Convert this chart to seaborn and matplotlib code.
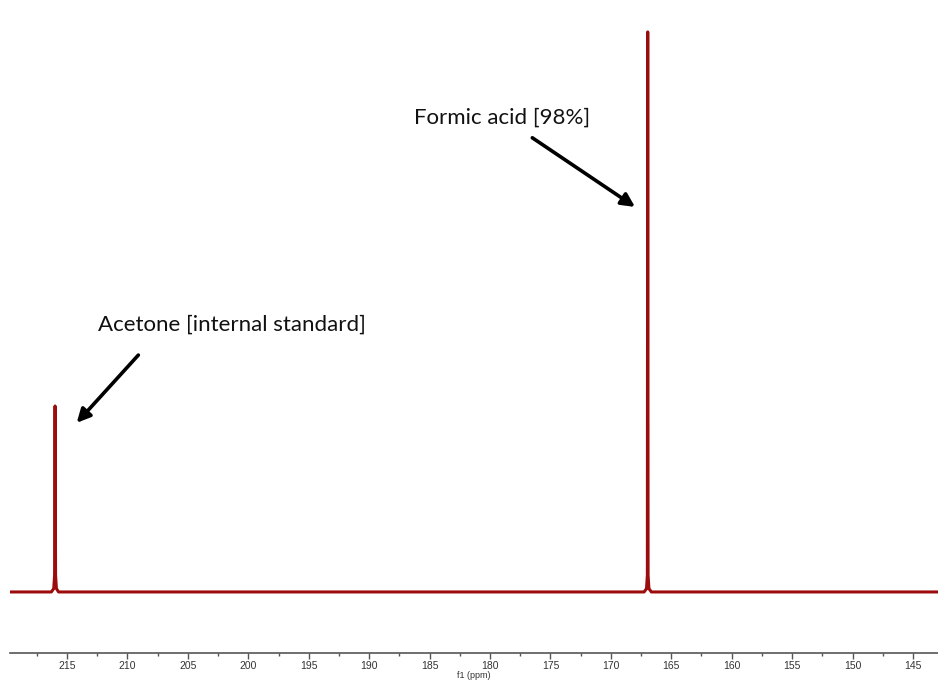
import matplotlib
matplotlib.use("Agg")
import matplotlib.pyplot as plt
import seaborn as sns
import pandas as pd
from matplotlib.ticker import MultipleLocator

# Spectrum trace (chemical shift in ppm, relative intensity)
shift_ppm = [219.7, 216.30, 216.10, 216.03, 215.99, 215.95, 215.88, 215.70,
             167.25, 167.05, 166.98, 166.95, 166.92, 166.85, 166.65, 142.9]
intensity = [0.0, 0.0, 0.006, 0.03, 0.332, 0.03, 0.006, 0.0,
             0.0, 0.006, 0.03, 1.0, 0.03, 0.006, 0.0, 0.0]

labels = ["Formic acid [98%]", "Acetone [internal standard]"]
label_pos = [(179.0, 0.846), (201.35, 0.477)]
arrow_tail = [(176.5, 0.811), (209.1, 0.423)]
arrow_tip = [(168.0, 0.6875), (214.2, 0.302)]

df = pd.DataFrame({"f1 (ppm)": shift_ppm, "intensity": intensity})

sns.set_style("white")
plt.rcParams["font.family"] = ["Lato", "DejaVu Sans"]

fig = plt.figure(figsize=(9.38, 6.81), dpi=100)
ax = fig.add_axes([10 / 938, 1 - 653 / 681, 1 - 10 / 938, 653 / 681])

sns.lineplot(data=df, x="f1 (ppm)", y="intensity", ax=ax, color="#9c0c0c",
             linewidth=2.2, estimator=None, sort=True)

ax.set_xlim(219.72, 142.93)
ax.set_ylim(-0.109, 1.057)

for side in ["top", "right", "left"]:
    ax.spines[side].set_visible(False)
ax.spines["bottom"].set_color("#555555")
ax.spines["bottom"].set_linewidth(1.2)
ax.set_yticks([])
ax.set_ylabel("")
ax.xaxis.set_major_locator(MultipleLocator(5))
ax.xaxis.set_minor_locator(MultipleLocator(2.5))
ax.tick_params(axis="x", which="major", direction="out", length=4, width=1,
               color="#555555", labelsize=7.5, labelcolor="#333333", pad=2,
               bottom=True)
ax.tick_params(axis="x", which="minor", direction="out", length=2.5, width=1,
               color="#555555", bottom=True)
for lab in ax.get_xticklabels():
    lab.set_family(["Liberation Sans", "DejaVu Sans"])
ax.set_xlabel("f1 (ppm)", fontsize=6.5, color="#333333", labelpad=0,
              family=["Liberation Sans", "DejaVu Sans"])

for text, pos in zip(labels, label_pos):
    ax.text(pos[0], pos[1], text, ha="center", va="center", fontsize=16,
            color="#111111")
for tail, tip in zip(arrow_tail, arrow_tip):
    ax.annotate("", xy=tip, xytext=tail,
                arrowprops=dict(arrowstyle="-|>", color="black", lw=2.6,
                                mutation_scale=20, shrinkA=0, shrinkB=0))

fig.savefig("out.png", dpi=100, facecolor="white")
